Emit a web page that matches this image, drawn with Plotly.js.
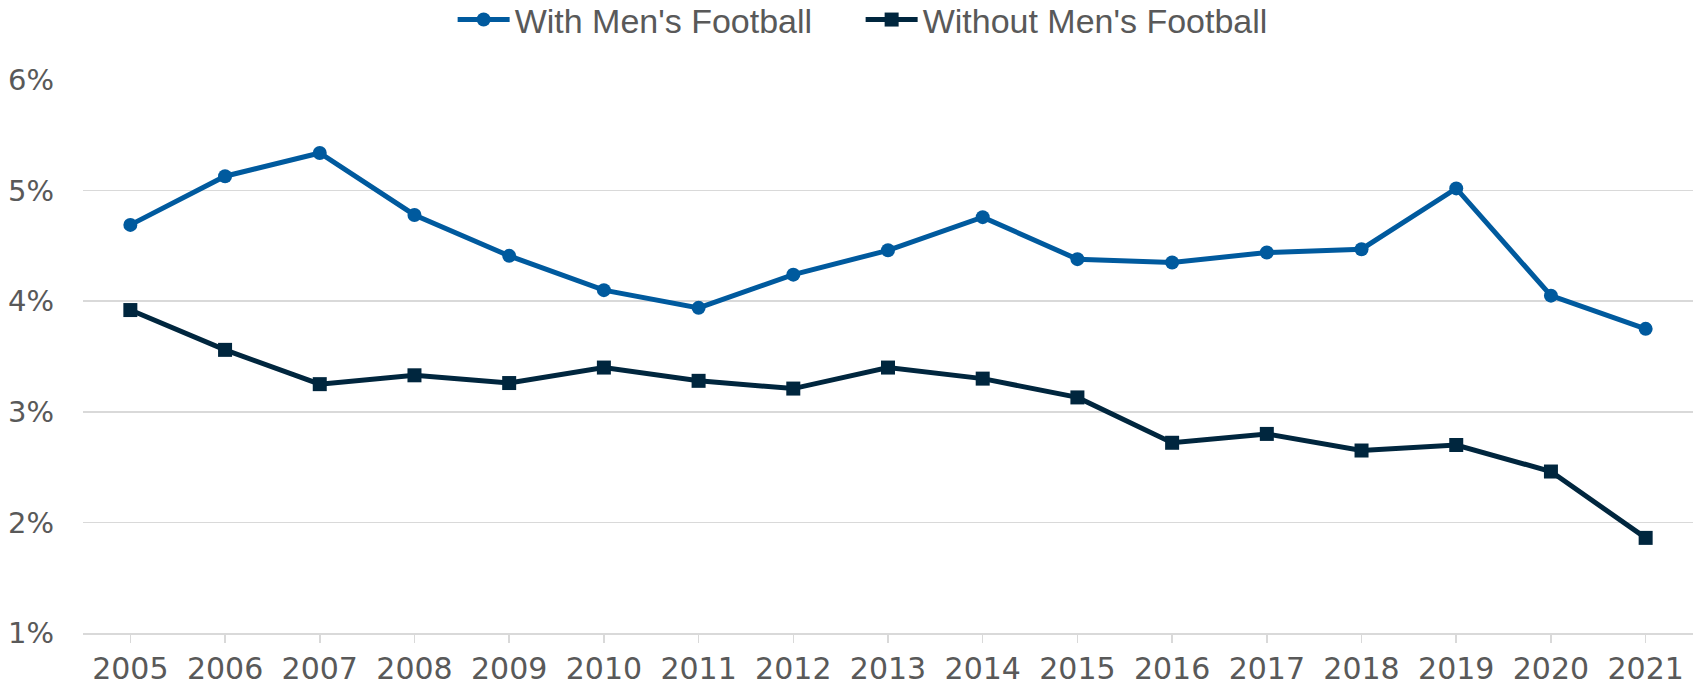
<!DOCTYPE html>
<html>
<head>
<meta charset="utf-8">
<script src="https://cdn.plot.ly/plotly-3.0.1.min.js"></script>
<style>html,body{margin:0;padding:0;background:#fff;}#chart{width:1702px;height:688px;}</style>
</head>
<body>
<div id="chart"></div>
<script>
const years = ['2005','2006','2007','2008','2009','2010','2011','2012','2013','2014','2015','2016','2017','2018','2019','2020','2021'];
const withFootball = [4.69,5.13,5.34,4.78,4.41,4.10,3.94,4.24,4.46,4.76,4.38,4.35,4.44,4.47,5.02,4.05,3.75];
const withoutFootball = [3.92,3.56,3.25,3.33,3.26,3.40,3.28,3.21,3.40,3.30,3.13,2.72,2.80,2.65,2.70,2.46,1.86];
const yTicks = [1,2,3,4,5,6];
const yTickText = ['1%','2%','3%','4%','5%','6%'];

const traces = [
  {x: years, y: withFootball, name: "With Men's Football", type: 'scatter', mode: 'lines+markers',
   line: {color: '#005a9e', width: 5}, marker: {symbol: 'circle', size: 14, color: '#005a9e'}},
  {x: years, y: withoutFootball, name: "Without Men's Football", type: 'scatter', mode: 'lines+markers',
   line: {color: '#00263e', width: 5}, marker: {symbol: 'square', size: 14, color: '#00263e'}}
];

const layout = {
  width: 1702, height: 688,
  margin: {l: 83, r: 9, t: 80, b: 55},
  paper_bgcolor: '#fff', plot_bgcolor: '#fff',
  showlegend: true,
  legend: {orientation: 'h', x: 0.483, xanchor: 'center', y: 0.971, yanchor: 'middle', yref: 'container',
           font: {family: 'Liberation Sans Narrow, Arial Narrow, sans-serif', size: 34, color: '#595959'},
           itemwidth: 52, entrywidth: 341, entrywidthmode: 'pixels', tracegroupgap: 0},
  xaxis: {type: 'category', range: [-0.5, 16.5], showgrid: false, showline: true, linecolor: '#d9d9d9', linewidth: 1.5,
          ticks: 'outside', ticklen: 8, tickcolor: '#d9d9d9', tickwidth: 1.5,
          tickfont: {family: 'DejaVu Sans, sans-serif', size: 30, color: '#595959'}, fixedrange: true},
  yaxis: {range: [1, 6], tickmode: 'array', tickvals: yTicks, ticktext: yTickText, showgrid: true, gridcolor: '#d9d9d9', gridwidth: 1.5,
          zeroline: false, showline: false, ticks: '', ticklabelstandoff: 28,
          tickfont: {family: 'DejaVu Sans, sans-serif', size: 29, color: '#595959'}, fixedrange: true}
};
Plotly.newPlot('chart', traces, layout, {displayModeBar: false, staticPlot: true});
</script>
</body>
</html>
